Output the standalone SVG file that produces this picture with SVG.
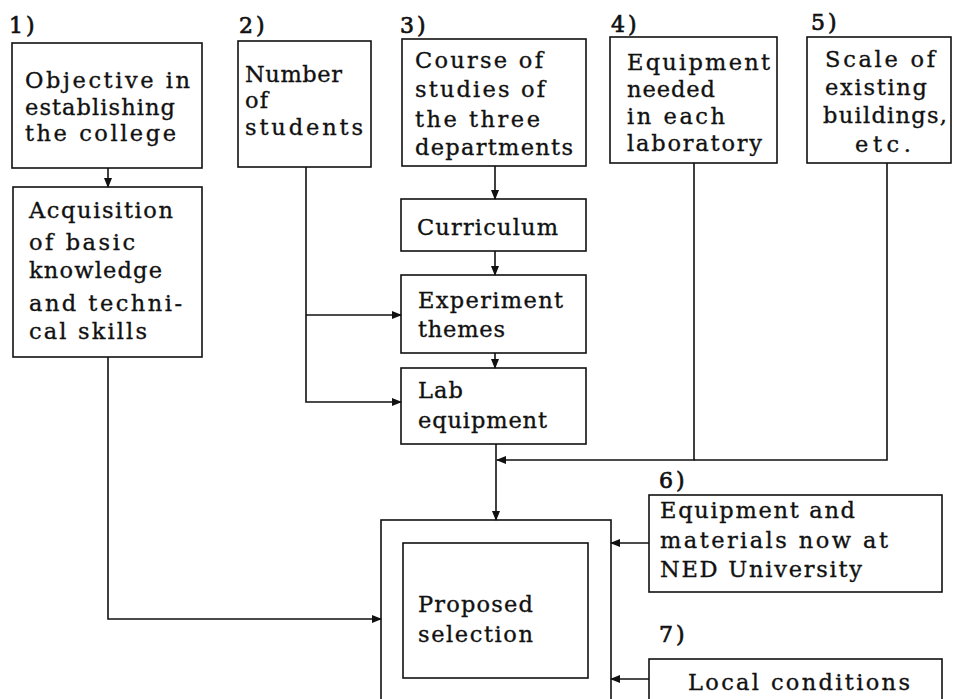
<svg xmlns="http://www.w3.org/2000/svg" width="954" height="699" viewBox="0 0 954 699">
<defs>
<marker id="ah" markerWidth="10" markerHeight="8" refX="9" refY="4" orient="auto" markerUnits="userSpaceOnUse">
<path d="M0,0 L10,4 L0,8 z" fill="#111"/>
</marker>
<style>
.box{fill:none;stroke:#111;stroke-width:1.6}
.t{font-family:"DejaVu Serif","Liberation Serif",serif;font-size:22.5px;fill:#111;stroke:#111;stroke-width:0.35}
.n{font-family:"DejaVu Serif","Liberation Serif",serif;font-size:22px;letter-spacing:3px;fill:#111;stroke:#111;stroke-width:0.7}
.c{fill:none;stroke:#111;stroke-width:1.6}
.ca{fill:none;stroke:#111;stroke-width:1.6;marker-end:url(#ah)}
</style>
</defs>
<rect width="954" height="699" fill="#fff"/>
<g id="n1">
<text class="n" x="9" y="33">1)</text>
<rect class="box" x="12" y="43" width="190" height="125"/>
<text class="t" x="25" y="88" textLength="165" lengthAdjust="spacing">Objective in</text>
<text class="t" x="25" y="115" textLength="150" lengthAdjust="spacing">establishing</text>
<text class="t" x="25" y="141" textLength="151" lengthAdjust="spacing">the college</text>
</g>
<g id="n2">
<text class="n" x="239" y="33">2)</text>
<rect class="box" x="238" y="41" width="133" height="126"/>
<text class="t" x="245" y="82" textLength="97" lengthAdjust="spacing">Number</text>
<text class="t" x="245" y="108" textLength="23" lengthAdjust="spacing">of</text>
<text class="t" x="245" y="135" textLength="118" lengthAdjust="spacing">students</text>
</g>
<g id="n3">
<text class="n" x="400" y="33">3)</text>
<rect class="box" x="402" y="39" width="184" height="127"/>
<text class="t" x="415" y="68" textLength="128" lengthAdjust="spacing">Course of</text>
<text class="t" x="415" y="97" textLength="130" lengthAdjust="spacing">studies of</text>
<text class="t" x="415" y="127" textLength="125" lengthAdjust="spacing">the three</text>
<text class="t" x="415" y="155" textLength="158" lengthAdjust="spacing">departments</text>
</g>
<g id="n4">
<text class="n" x="611" y="32">4)</text>
<rect class="box" x="610" y="37" width="167" height="126"/>
<text class="t" x="627" y="70" textLength="143" lengthAdjust="spacing">Equipment</text>
<text class="t" x="627" y="97" textLength="88" lengthAdjust="spacing">needed</text>
<text class="t" x="627" y="124" textLength="98" lengthAdjust="spacing">in each</text>
<text class="t" x="627" y="151" textLength="135" lengthAdjust="spacing">laboratory</text>
</g>
<g id="n5">
<text class="n" x="811" y="30">5)</text>
<rect class="box" x="807" y="37" width="144" height="126"/>
<text class="t" x="825" y="67" textLength="110" lengthAdjust="spacing">Scale of</text>
<text class="t" x="825" y="95" textLength="102" lengthAdjust="spacing">existing</text>
<text class="t" x="823" y="123" textLength="124" lengthAdjust="spacing">buildings,</text>
<text class="t" x="855" y="152" textLength="56" lengthAdjust="spacing">etc.</text>
</g>
<g id="acq">
<rect class="box" x="13" y="187" width="189" height="170"/>
<text class="t" x="29" y="218" textLength="144" lengthAdjust="spacing">Acquisition</text>
<text class="t" x="29" y="250" textLength="106" lengthAdjust="spacing">of basic</text>
<text class="t" x="29" y="278" textLength="133" lengthAdjust="spacing">knowledge</text>
<text class="t" x="29" y="311" textLength="153" lengthAdjust="spacing">and techni-</text>
<text class="t" x="29" y="339" textLength="118" lengthAdjust="spacing">cal skills</text>
</g>
<g id="cur">
<rect class="box" x="401" y="199" width="185" height="52"/>
<text class="t" x="417" y="235" textLength="141" lengthAdjust="spacing">Curriculum</text>
</g>
<g id="exp">
<rect class="box" x="401" y="275" width="185" height="78"/>
<text class="t" x="418" y="308" textLength="145" lengthAdjust="spacing">Experiment</text>
<text class="t" x="418" y="337" textLength="87" lengthAdjust="spacing">themes</text>
</g>
<g id="lab">
<rect class="box" x="401" y="368" width="185" height="76"/>
<text class="t" x="418" y="398" textLength="45" lengthAdjust="spacing">Lab</text>
<text class="t" x="418" y="428" textLength="129" lengthAdjust="spacing">equipment</text>
</g>
<g id="prop">
<rect class="box" x="381" y="520" width="230" height="190"/>
<rect class="box" x="403" y="543" width="185" height="135"/>
<text class="t" x="418" y="612" textLength="115" lengthAdjust="spacing">Proposed</text>
<text class="t" x="418" y="642" textLength="115" lengthAdjust="spacing">selection</text>
</g>
<g id="n6">
<text class="n" x="659" y="488">6)</text>
<rect class="box" x="649" y="495" width="293" height="97"/>
<text class="t" x="660" y="518" textLength="195" lengthAdjust="spacing">Equipment and</text>
<text class="t" x="660" y="548" textLength="228" lengthAdjust="spacing">materials now at</text>
<text class="t" x="660" y="577" textLength="202" lengthAdjust="spacing">NED University</text>
</g>
<g id="n7">
<text class="n" x="659" y="642">7)</text>
<rect class="box" x="649" y="659" width="293" height="60"/>
<text class="t" x="688" y="690" textLength="222" lengthAdjust="spacing">Local conditions</text>
</g>
<g id="connectors">
<path class="ca" d="M108,168 V187"/>
<path class="ca" d="M306,167 V402 H401"/>
<path class="ca" d="M306,315 H401"/>
<path class="ca" d="M495,166 V199"/>
<path class="ca" d="M495,251 V275"/>
<path class="ca" d="M495,353 V368"/>
<path class="ca" d="M496,444 V520"/>
<path class="c" d="M887,163 V460 H694"/>
<path class="ca" d="M694,163 V460 H497"/>
<path class="ca" d="M108,357 V619 H381"/>
<path class="ca" d="M649,543 H611"/>
<path class="ca" d="M649,679 H611"/>
</g>
</svg>
